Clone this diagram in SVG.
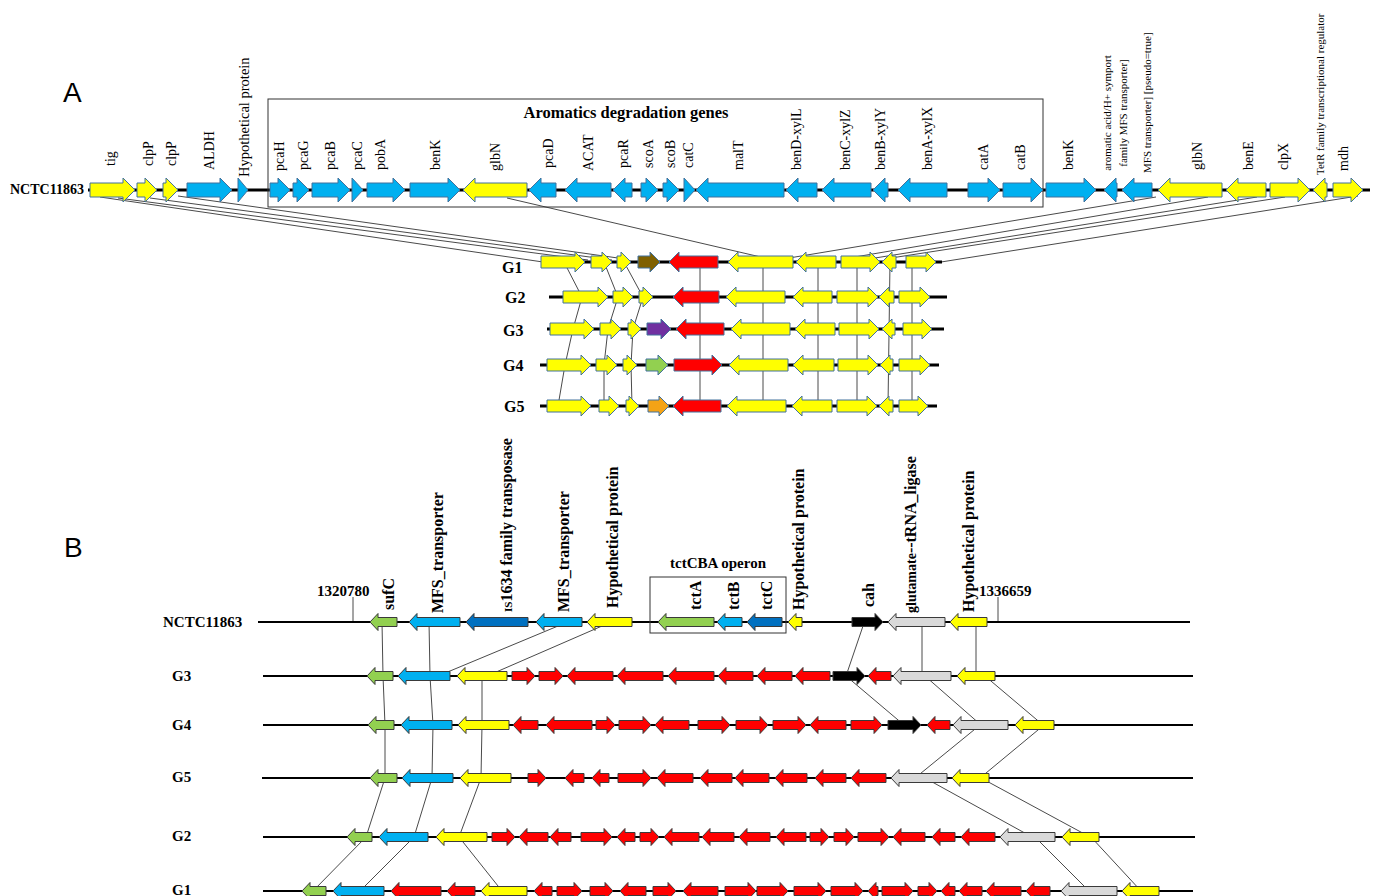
<svg xmlns="http://www.w3.org/2000/svg" width="1376" height="896" viewBox="0 0 1376 896">
<style>
.sr{font-family:"Liberation Serif","Times New Roman",serif;fill:#000}
.lab{font-size:14px}
.sm{font-size:11px}
.bd{font-weight:bold}
.bl16{font-family:"Liberation Serif",serif;font-weight:bold;font-size:16px}
.big{font-family:"Liberation Sans",Arial,sans-serif;font-size:28px}
.bb{stroke:#000;stroke-width:3;fill:none}
.bb2{stroke:#000;stroke-width:2;fill:none}
.cn{stroke:#4a4a4a;stroke-width:1;fill:none}
.ga path{stroke:#41719C;stroke-width:1}
.gb path{stroke:#3a3a3a;stroke-width:1}
.y{fill:#FFFF00}.b{fill:#00B0F0}.r{fill:#FF0000}.br{fill:#7F6000}.pu{fill:#7030A0}.gr{fill:#92D050}.or{fill:#F4A316}.db{fill:#0070C0}.k{fill:#000}.gy{fill:#D9D9D9}
</style>

<text class="big" x="63" y="102">A</text>
<text class="big" x="64" y="557">B</text>

<!-- ===== Connectors ===== -->
<g id="connectors">
  <!-- A: reference to G1 -->
  <line class="cn" x1="100" y1="197" x2="543" y2="262"/>
  <line class="cn" x1="118" y1="198" x2="588" y2="260"/>
  <line class="cn" x1="150" y1="198" x2="612" y2="260"/>
  <line class="cn" x1="178" y1="196" x2="625" y2="259"/>
  <line class="cn" x1="507" y1="198" x2="765" y2="258"/>
  <line class="cn" x1="1156" y1="197" x2="789" y2="258"/>
  <line class="cn" x1="1208" y1="197" x2="849" y2="258"/>
  <line class="cn" x1="1257" y1="197" x2="875" y2="258"/>
  <line class="cn" x1="1285" y1="197" x2="891" y2="258"/>
  <line class="cn" x1="1358" y1="196" x2="941" y2="262"/>
  <!-- A: G1..G5 -->
  <polyline class="cn" points="564,262 582,297 573,329 565,365 558,406"/>
  <polyline class="cn" points="604,262 618,297 608,329 604,365 604,406"/>
  <polyline class="cn" points="624,262 643,297 633,329 631,365 632,406"/>
  <line class="cn" x1="700" y1="262" x2="700" y2="406"/>
  <line class="cn" x1="763" y1="262" x2="763" y2="406"/>
  <line class="cn" x1="818" y1="262" x2="818" y2="406"/>
  <line class="cn" x1="857" y1="262" x2="857" y2="406"/>
  <line class="cn" x1="890" y1="262" x2="888" y2="406"/>
  <line class="cn" x1="912" y1="262" x2="912" y2="406"/>
  <!-- B -->
  <line class="cn" x1="353" y1="597" x2="353" y2="622"/>
  <line class="cn" x1="998" y1="597" x2="998" y2="622"/>
  <polyline class="cn" points="382,622 383,676 385,725 385,778 366,837 313,891"/>
  <polyline class="cn" points="429,622 430,676 433,725 432,778 414,837 360,891"/>
  <line class="cn" x1="558" y1="626" x2="438" y2="676"/>
  <line class="cn" x1="602" y1="626" x2="487" y2="676"/>
  <polyline class="cn" points="482,676 482,725 481,778 459,837 502,891"/>
  <polyline class="cn" points="863,626 846,676 904,725"/>
  <line class="cn" x1="922" y1="622" x2="922" y2="676"/>
  <line class="cn" x1="925" y1="676" x2="981" y2="725"/>
  <line class="cn" x1="980" y1="725" x2="915" y2="778"/>
  <line class="cn" x1="925" y1="778" x2="1032" y2="837"/>
  <line class="cn" x1="1035" y1="837" x2="1089" y2="891"/>
  <line class="cn" x1="976" y1="622" x2="976" y2="676"/>
  <line class="cn" x1="985" y1="676" x2="1043" y2="725"/>
  <line class="cn" x1="1044" y1="725" x2="980" y2="778"/>
  <line class="cn" x1="981" y1="778" x2="1090" y2="837"/>
  <line class="cn" x1="1091" y1="837" x2="1141" y2="891"/>
</g>

<!-- ===== Part A reference ===== -->
<g id="A-NCTC11863" class="ga">
  <text class="sr bd" x="10" y="194" font-size="14">NCTC11863</text>
  <line class="bb" x1="88" y1="190" x2="1370" y2="190"/>
  <rect x="268" y="99" width="775" height="108" fill="none" stroke="#333" stroke-width="1"/>
  <text class="sr bd" x="626" y="118" font-size="16.5" text-anchor="middle">Aromatics degradation genes</text>
  <path class="y" d="M90,183h33v-5l12,12l-12,12v-5h-33z"/>
  <path class="y" d="M137,183h8v-5l12,12l-12,12v-5h-8z"/>
  <path class="y" d="M163,183h3v-5l12,12l-12,12v-5h-3z"/>
  <path class="b" d="M187,183h33v-5l12,12l-12,12v-5h-33z"/>
  <path class="b" d="M238,183v-5l10,12l-10,12v-5z"/>
  <path class="b" d="M270,183h8v-5l12,12l-12,12v-5h-8z"/>
  <path class="b" d="M293,183h4v-5l12,12l-12,12v-5h-4z"/>
  <path class="b" d="M312,183h26v-5l12,12l-12,12v-5h-26z"/>
  <path class="b" d="M352,183v-5l11,12l-11,12v-5z"/>
  <path class="b" d="M367,183h26v-5l12,12l-12,12v-5h-26z"/>
  <path class="b" d="M410,183h38v-5l12,12l-12,12v-5h-38z"/>
  <path class="y" d="M527,183h-52v-5l-12,12l12,12v-5h52z"/>
  <path class="b" d="M556,183h-15v-5l-12,12l12,12v-5h15z"/>
  <path class="b" d="M611,183h-34v-5l-12,12l12,12v-5h34z"/>
  <path class="b" d="M632,183h-7v-5l-12,12l12,12v-5h7z"/>
  <path class="b" d="M641,183h5v-5l12,12l-12,12v-5h-5z"/>
  <path class="b" d="M663,183h4v-5l12,12l-12,12v-5h-4z"/>
  <path class="b" d="M684,183v-5l11,12l-11,12v-5z"/>
  <path class="b" d="M784,183h-76v-5l-12,12l12,12v-5h76z"/>
  <path class="b" d="M817,183h-19v-5l-12,12l12,12v-5h19z"/>
  <path class="b" d="M871,183h-37v-5l-12,12l12,12v-5h37z"/>
  <path class="b" d="M888,183h-3v-5l-12,12l12,12v-5h3z"/>
  <path class="b" d="M947,183h-37v-5l-12,12l12,12v-5h37z"/>
  <path class="b" d="M968,183h20v-5l12,12l-12,12v-5h-20z"/>
  <path class="b" d="M1003,183h28v-5l12,12l-12,12v-5h-28z"/>
  <path class="b" d="M1046,183h38v-5l12,12l-12,12v-5h-38z"/>
  <path class="b" d="M1117,183h-1v-5l-12,12l12,12v-5h1z"/>
  <path class="b" d="M1152,183h-18v-5l-12,12l12,12v-5h18z"/>
  <path class="y" d="M1222,183h-52v-5l-12,12l12,12v-5h52z"/>
  <path class="y" d="M1266,183h-28v-5l-12,12l12,12v-5h28z"/>
  <path class="y" d="M1270,183h28v-5l12,12l-12,12v-5h-28z"/>
  <path class="y" d="M1327,183h-2v-5l-12,12l12,12v-5h2z"/>
  <path class="y" d="M1333,183h18v-5l12,12l-12,12v-5h-18z"/>
  <g class="sr lab">
    <text transform="translate(110,166) rotate(-90)" dy=".35em">tig</text>
    <text transform="translate(148,166) rotate(-90)" dy=".35em">clpP</text>
    <text transform="translate(171,166) rotate(-90)" dy=".35em">clpP</text>
    <text transform="translate(209,170) rotate(-90)" dy=".35em">ALDH</text>
    <text transform="translate(244,177) rotate(-90)" dy=".35em" font-size="14.5">Hypothetical protein</text>
    <text transform="translate(279,171) rotate(-90)" dy=".35em">pcaH</text>
    <text transform="translate(303,170) rotate(-90)" dy=".35em">pcaG</text>
    <text transform="translate(330,170) rotate(-90)" dy=".35em">pcaB</text>
    <text transform="translate(357,170) rotate(-90)" dy=".35em">pcaC</text>
    <text transform="translate(380,170) rotate(-90)" dy=".35em">pobA</text>
    <text transform="translate(435,170) rotate(-90)" dy=".35em">benK</text>
    <text transform="translate(495,171) rotate(-90)" dy=".35em">glbN</text>
    <text transform="translate(548,168) rotate(-90)" dy=".35em">pcaD</text>
    <text transform="translate(588,171) rotate(-90)" dy=".35em">ACAT</text>
    <text transform="translate(623,168) rotate(-90)" dy=".35em">pcaR</text>
    <text transform="translate(648,168) rotate(-90)" dy=".35em">scoA</text>
    <text transform="translate(670,168) rotate(-90)" dy=".35em">scoB</text>
    <text transform="translate(688,168) rotate(-90)" dy=".35em">catC</text>
    <text transform="translate(738,170) rotate(-90)" dy=".35em">malT</text>
    <text transform="translate(796,170) rotate(-90)" dy=".35em">benD-xylL</text>
    <text transform="translate(845,170) rotate(-90)" dy=".35em">benC-xylZ</text>
    <text transform="translate(880,170) rotate(-90)" dy=".35em">benB-xylY</text>
    <text transform="translate(927,170) rotate(-90)" dy=".35em">benA-xylX</text>
    <text transform="translate(983,170) rotate(-90)" dy=".35em">catA</text>
    <text transform="translate(1020,170) rotate(-90)" dy=".35em">catB</text>
    <text transform="translate(1068,170) rotate(-90)" dy=".35em">benK</text>
    <text transform="translate(1107,113) rotate(-90)" dy=".35em" class="sm" text-anchor="middle">aromatic acid/H+ symport</text>
    <text transform="translate(1123,113) rotate(-90)" dy=".35em" class="sm" text-anchor="middle">family MFS transporter]</text>
    <text transform="translate(1147,173) rotate(-90)" dy=".35em" class="sm">MFS transporter] [pseudo=true]</text>
    <text transform="translate(1197,170) rotate(-90)" dy=".35em">glbN</text>
    <text transform="translate(1248,170) rotate(-90)" dy=".35em">benE</text>
    <text transform="translate(1283,170) rotate(-90)" dy=".35em">clpX</text>
    <text transform="translate(1320,175) rotate(-90)" dy=".35em" class="sm">TetR family transcriptional regulator</text>
    <text transform="translate(1343,171) rotate(-90)" dy=".35em">mdh</text>
  </g>
</g>

<!-- ===== Part A G rows ===== -->
<g id="A-G1" class="ga">
  <text class="sr bd" x="502" y="273" font-size="16">G1</text>
  <line class="bb" x1="541" y1="262" x2="942" y2="262"/>
  <path class="y" d="M541,256h34v-4l10,10l-10,10v-4h-34z"/>
  <path class="y" d="M591,256h11v-4l10,10l-10,10v-4h-11z"/>
  <path class="y" d="M617,256h4v-4l10,10l-10,10v-4h-4z"/>
  <path class="br" d="M638,256h12v-4l10,10l-10,10v-4h-12z"/>
  <path class="r" d="M718,256h-39v-4l-10,10l10,10v-4h39z"/>
  <path class="y" d="M793,256h-55v-4l-10,10l10,10v-4h55z"/>
  <path class="y" d="M836,256h-30v-4l-10,10l10,10v-4h30z"/>
  <path class="y" d="M841,256h29v-4l10,10l-10,10v-4h-29z"/>
  <path class="y" d="M896,256h-4v-4l-10,10l10,10v-4h4z"/>
  <path class="y" d="M906,256h20v-4l10,10l-10,10v-4h-20z"/>
</g>
<g id="A-G2" class="ga">
  <text class="sr bd" x="505" y="303" font-size="16">G2</text>
  <line class="bb" x1="549" y1="297" x2="947" y2="297"/>
  <path class="y" d="M563,291h35v-4l10,10l-10,10v-4h-35z"/>
  <path class="y" d="M613,291h10v-4l10,10l-10,10v-4h-10z"/>
  <path class="y" d="M639,291h4v-4l10,10l-10,10v-4h-4z"/>
  <path class="r" d="M719,291h-36v-4l-10,10l10,10v-4h36z"/>
  <path class="y" d="M785,291h-49v-4l-10,10l10,10v-4h49z"/>
  <path class="y" d="M832,291h-29v-4l-10,10l10,10v-4h29z"/>
  <path class="y" d="M837,291h31v-4l10,10l-10,10v-4h-31z"/>
  <path class="y" d="M894,291h-5v-4l-10,10l10,10v-4h5z"/>
  <path class="y" d="M899,291h21v-4l10,10l-10,10v-4h-21z"/>
</g>
<g id="A-G3" class="ga">
  <text class="sr bd" x="503" y="336" font-size="16">G3</text>
  <line class="bb" x1="547" y1="329" x2="944" y2="329"/>
  <path class="y" d="M550,323h34v-4l10,10l-10,10v-4h-34z"/>
  <path class="y" d="M600,323h11v-4l10,10l-10,10v-4h-11z"/>
  <path class="y" d="M628,323h3v-4l10,10l-10,10v-4h-3z"/>
  <path class="pu" d="M647,323h14v-4l10,10l-10,10v-4h-14z"/>
  <path class="r" d="M724,323h-38v-4l-10,10l10,10v-4h38z"/>
  <path class="y" d="M790,323h-49v-4l-10,10l10,10v-4h49z"/>
  <path class="y" d="M835,323h-30v-4l-10,10l10,10v-4h30z"/>
  <path class="y" d="M839,323h30v-4l10,10l-10,10v-4h-30z"/>
  <path class="y" d="M895,323h-3v-4l-10,10l10,10v-4h3z"/>
  <path class="y" d="M903,323h19v-4l10,10l-10,10v-4h-19z"/>
</g>
<g id="A-G4" class="ga">
  <text class="sr bd" x="503" y="371" font-size="16">G4</text>
  <line class="bb" x1="540" y1="365" x2="939" y2="365"/>
  <path class="y" d="M547,359h34v-4l10,10l-10,10v-4h-34z"/>
  <path class="y" d="M596,359h11v-4l10,10l-10,10v-4h-11z"/>
  <path class="y" d="M623,359h4v-4l10,10l-10,10v-4h-4z"/>
  <path class="gr" d="M646,359h12v-4l10,10l-10,10v-4h-12z"/>
  <path class="r" d="M674,359h38v-4l10,10l-10,10v-4h-38z"/>
  <path class="y" d="M788,359h-49v-4l-10,10l10,10v-4h49z"/>
  <path class="y" d="M834,359h-31v-4l-10,10l10,10v-4h31z"/>
  <path class="y" d="M838,359h30v-4l10,10l-10,10v-4h-30z"/>
  <path class="y" d="M893,359h-3v-4l-10,10l10,10v-4h3z"/>
  <path class="y" d="M899,359h21v-4l10,10l-10,10v-4h-21z"/>
</g>
<g id="A-G5" class="ga">
  <text class="sr bd" x="504" y="412" font-size="16">G5</text>
  <line class="bb" x1="540" y1="406" x2="937" y2="406"/>
  <path class="y" d="M547,400h34v-4l10,10l-10,10v-4h-34z"/>
  <path class="y" d="M599,400h10v-4l10,10l-10,10v-4h-10z"/>
  <path class="y" d="M626,400h3v-4l10,10l-10,10v-4h-3z"/>
  <path class="or" d="M648,400h11v-4l10,10l-10,10v-4h-11z"/>
  <path class="r" d="M721,400h-38v-4l-10,10l10,10v-4h38z"/>
  <path class="y" d="M786,400h-49v-4l-10,10l10,10v-4h49z"/>
  <path class="y" d="M832,400h-30v-4l-10,10l10,10v-4h30z"/>
  <path class="y" d="M837,400h30v-4l10,10l-10,10v-4h-30z"/>
  <path class="y" d="M893,400h-4v-4l-10,10l10,10v-4h4z"/>
  <path class="y" d="M899,400h19v-4l10,10l-10,10v-4h-19z"/>
</g>

<!-- ===== Part B reference ===== -->
<g id="B-NCTC11863" class="gb">
  <text class="sr bd" x="163" y="627" font-size="15">NCTC11863</text>
  <line class="bb2" x1="258" y1="622" x2="1190" y2="622"/>
  <text class="sr bd" x="317" y="596" font-size="15">1320780</text>
  <text class="sr bd" x="979" y="596" font-size="15">1336659</text>
  <rect x="650" y="577" width="136" height="56" fill="none" stroke="#333" stroke-width="1"/>
  <text class="sr bd" x="718" y="568" font-size="15" text-anchor="middle">tctCBA operon</text>
  <path class="gr" d="M397,617.5h-19v-4l-8,8.5l8,8.5v-4h19z"/>
  <path class="b" d="M460,617.5h-43v-4l-8,8.5l8,8.5v-4h43z"/>
  <path class="db" d="M528,617.5h-54v-4l-8,8.5l8,8.5v-4h54z"/>
  <path class="b" d="M582,617.5h-38v-4l-8,8.5l8,8.5v-4h38z"/>
  <path class="y" d="M632,617.5h-37v-4l-8,8.5l8,8.5v-4h37z"/>
  <path class="gr" d="M714,617.5h-48v-4l-8,8.5l8,8.5v-4h48z"/>
  <path class="b" d="M742,617.5h-17v-4l-8,8.5l8,8.5v-4h17z"/>
  <path class="db" d="M782,617.5h-27v-4l-8,8.5l8,8.5v-4h27z"/>
  <path class="y" d="M802,617.5h-6v-4l-8,8.5l8,8.5v-4h6z"/>
  <path class="k" d="M852,617.5h23v-4l8,8.5l-8,8.5v-4h-23z"/>
  <path class="gy" d="M945,617.5h-49v-4l-8,8.5l8,8.5v-4h49z"/>
  <path class="y" d="M987,617.5h-29v-4l-8,8.5l8,8.5v-4h29z"/>
  <g class="bl16">
    <text transform="translate(388,610) rotate(-90)" dy=".35em">sufC</text>
    <text transform="translate(437,613) rotate(-90)" dy=".35em">MFS_transporter</text>
    <text transform="translate(506,612) rotate(-90)" dy=".35em"><tspan font-size="11">IS</tspan>1634 family transposase</text>
    <text transform="translate(563,612) rotate(-90)" dy=".35em">MFS_transporter</text>
    <text transform="translate(612,608) rotate(-90)" dy=".35em">Hypothetical protein</text>
    <text transform="translate(695,610) rotate(-90)" dy=".35em">tctA</text>
    <text transform="translate(733,610) rotate(-90)" dy=".35em">tctB</text>
    <text transform="translate(766,610) rotate(-90)" dy=".35em">tctC</text>
    <text transform="translate(798,610) rotate(-90)" dy=".35em">Hypothetical protein</text>
    <text transform="translate(868,607) rotate(-90)" dy=".35em">cah</text>
    <text transform="translate(910,613) rotate(-90)" dy=".35em"><tspan font-size="14">glutamate</tspan>--tRNA_ligase</text>
    <text transform="translate(968,612) rotate(-90)" dy=".35em">Hypothetical protein</text>
  </g>
</g>

<!-- ===== Part B rows ===== -->
<g id="B-G3" class="gb">
  <text class="sr bd" x="172" y="681" font-size="15">G3</text>
  <line class="bb2" x1="263" y1="676" x2="1193" y2="676"/>
  <path class="gr" d="M393,671.5h-18v-4l-8,8.5l8,8.5v-4h18z"/>
  <path class="b" d="M450,671.5h-44v-4l-8,8.5l8,8.5v-4h44z"/>
  <path class="y" d="M507,671.5h-42v-4l-8,8.5l8,8.5v-4h42z"/>
  <path class="r" d="M512,671.5h15v-4l8,8.5l-8,8.5v-4h-15z"/>
  <path class="r" d="M539,671.5h16v-4l8,8.5l-8,8.5v-4h-16z"/>
  <path class="r" d="M613,671.5h-38v-4l-8,8.5l8,8.5v-4h38z"/>
  <path class="r" d="M663,671.5h-38v-4l-8,8.5l8,8.5v-4h38z"/>
  <path class="r" d="M714,671.5h-38v-4l-8,8.5l8,8.5v-4h38z"/>
  <path class="r" d="M753,671.5h-27v-4l-8,8.5l8,8.5v-4h27z"/>
  <path class="r" d="M792,671.5h-27v-4l-8,8.5l8,8.5v-4h27z"/>
  <path class="r" d="M830,671.5h-27v-4l-8,8.5l8,8.5v-4h27z"/>
  <path class="k" d="M833,671.5h24v-4l8,8.5l-8,8.5v-4h-24z"/>
  <path class="r" d="M891,671.5h-15v-4l-8,8.5l8,8.5v-4h15z"/>
  <path class="gy" d="M951,671.5h-50v-4l-8,8.5l8,8.5v-4h50z"/>
  <path class="y" d="M995,671.5h-30v-4l-8,8.5l8,8.5v-4h30z"/>
</g>
<g id="B-G4" class="gb">
  <text class="sr bd" x="172" y="730" font-size="15">G4</text>
  <line class="bb2" x1="263" y1="725" x2="1193" y2="725"/>
  <path class="gr" d="M394,720.5h-18v-4l-8,8.5l8,8.5v-4h18z"/>
  <path class="b" d="M452,720.5h-43v-4l-8,8.5l8,8.5v-4h43z"/>
  <path class="y" d="M509,720.5h-43v-4l-8,8.5l8,8.5v-4h43z"/>
  <path class="r" d="M538,720.5h-17v-4l-8,8.5l8,8.5v-4h17z"/>
  <path class="r" d="M592,720.5h-38v-4l-8,8.5l8,8.5v-4h38z"/>
  <path class="r" d="M596,720.5h11v-4l8,8.5l-8,8.5v-4h-11z"/>
  <path class="r" d="M619,720.5h24v-4l8,8.5l-8,8.5v-4h-24z"/>
  <path class="r" d="M689,720.5h-26v-4l-8,8.5l8,8.5v-4h26z"/>
  <path class="r" d="M698,720.5h24v-4l8,8.5l-8,8.5v-4h-24z"/>
  <path class="r" d="M736,720.5h24v-4l8,8.5l-8,8.5v-4h-24z"/>
  <path class="r" d="M773,720.5h25v-4l8,8.5l-8,8.5v-4h-25z"/>
  <path class="r" d="M846,720.5h-28v-4l-8,8.5l8,8.5v-4h28z"/>
  <path class="r" d="M851,720.5h23v-4l8,8.5l-8,8.5v-4h-23z"/>
  <path class="k" d="M888,720.5h25v-4l8,8.5l-8,8.5v-4h-25z"/>
  <path class="r" d="M950,720.5h-15v-4l-8,8.5l8,8.5v-4h15z"/>
  <path class="gy" d="M1008,720.5h-47v-4l-8,8.5l8,8.5v-4h47z"/>
  <path class="y" d="M1054,720.5h-31v-4l-8,8.5l8,8.5v-4h31z"/>
</g>
<g id="B-G5" class="gb">
  <text class="sr bd" x="172" y="782" font-size="15">G5</text>
  <line class="bb2" x1="262" y1="778" x2="1193" y2="778"/>
  <path class="gr" d="M397,773.5h-19v-4l-8,8.5l8,8.5v-4h19z"/>
  <path class="b" d="M453,773.5h-43v-4l-8,8.5l8,8.5v-4h43z"/>
  <path class="y" d="M511,773.5h-43v-4l-8,8.5l8,8.5v-4h43z"/>
  <path class="r" d="M528,773.5h10v-4l8,8.5l-8,8.5v-4h-10z"/>
  <path class="r" d="M584,773.5h-11v-4l-8,8.5l8,8.5v-4h11z"/>
  <path class="r" d="M609,773.5h-9v-4l-8,8.5l8,8.5v-4h9z"/>
  <path class="r" d="M618,773.5h25v-4l8,8.5l-8,8.5v-4h-25z"/>
  <path class="r" d="M693,773.5h-28v-4l-8,8.5l8,8.5v-4h28z"/>
  <path class="r" d="M732,773.5h-24v-4l-8,8.5l8,8.5v-4h24z"/>
  <path class="r" d="M769,773.5h-26v-4l-8,8.5l8,8.5v-4h26z"/>
  <path class="r" d="M807,773.5h-24v-4l-8,8.5l8,8.5v-4h24z"/>
  <path class="r" d="M846,773.5h-23v-4l-8,8.5l8,8.5v-4h23z"/>
  <path class="r" d="M886,773.5h-27v-4l-8,8.5l8,8.5v-4h27z"/>
  <path class="gy" d="M947,773.5h-48v-4l-8,8.5l8,8.5v-4h48z"/>
  <path class="y" d="M989,773.5h-29v-4l-8,8.5l8,8.5v-4h29z"/>
</g>
<g id="B-G2" class="gb">
  <text class="sr bd" x="172" y="841" font-size="15">G2</text>
  <line class="bb2" x1="263" y1="837" x2="1195" y2="837"/>
  <path class="gr" d="M372,832.5h-17v-4l-8,8.5l8,8.5v-4h17z"/>
  <path class="b" d="M428,832.5h-41v-4l-8,8.5l8,8.5v-4h41z"/>
  <path class="y" d="M487,832.5h-43v-4l-8,8.5l8,8.5v-4h43z"/>
  <path class="r" d="M492,832.5h15v-4l8,8.5l-8,8.5v-4h-15z"/>
  <path class="r" d="M548,832.5h-21v-4l-8,8.5l8,8.5v-4h21z"/>
  <path class="r" d="M571,832.5h-13v-4l-8,8.5l8,8.5v-4h13z"/>
  <path class="r" d="M581,832.5h23v-4l8,8.5l-8,8.5v-4h-23z"/>
  <path class="r" d="M635,832.5h-10v-4l-8,8.5l8,8.5v-4h10z"/>
  <path class="r" d="M640,832.5h11v-4l8,8.5l-8,8.5v-4h-11z"/>
  <path class="r" d="M699,832.5h-27v-4l-8,8.5l8,8.5v-4h27z"/>
  <path class="r" d="M734,832.5h-24v-4l-8,8.5l8,8.5v-4h24z"/>
  <path class="r" d="M770,832.5h-23v-4l-8,8.5l8,8.5v-4h23z"/>
  <path class="r" d="M806,832.5h-22v-4l-8,8.5l8,8.5v-4h22z"/>
  <path class="r" d="M810,832.5h11v-4l8,8.5l-8,8.5v-4h-11z"/>
  <path class="r" d="M834,832.5h12v-4l8,8.5l-8,8.5v-4h-12z"/>
  <path class="r" d="M858,832.5h23v-4l8,8.5l-8,8.5v-4h-23z"/>
  <path class="r" d="M925,832.5h-24v-4l-8,8.5l8,8.5v-4h24z"/>
  <path class="r" d="M955,832.5h-15v-4l-8,8.5l8,8.5v-4h15z"/>
  <path class="r" d="M995,832.5h-26v-4l-8,8.5l8,8.5v-4h26z"/>
  <path class="gy" d="M1055,832.5h-47v-4l-8,8.5l8,8.5v-4h47z"/>
  <path class="y" d="M1099,832.5h-29v-4l-8,8.5l8,8.5v-4h29z"/>
</g>
<g id="B-G1" class="gb">
  <text class="sr bd" x="172" y="895" font-size="15">G1</text>
  <line class="bb2" x1="263" y1="891" x2="1193" y2="891"/>
  <path class="gr" d="M326,886.5h-16v-4l-8,8.5l8,8.5v-4h16z"/>
  <path class="b" d="M384,886.5h-43v-4l-8,8.5l8,8.5v-4h43z"/>
  <path class="r" d="M441,886.5h-42v-4l-8,8.5l8,8.5v-4h42z"/>
  <path class="r" d="M475,886.5h-20v-4l-8,8.5l8,8.5v-4h20z"/>
  <path class="y" d="M527,886.5h-38v-4l-8,8.5l8,8.5v-4h38z"/>
  <path class="r" d="M552,886.5h-10v-4l-8,8.5l8,8.5v-4h10z"/>
  <path class="r" d="M557,886.5h17v-4l8,8.5l-8,8.5v-4h-17z"/>
  <path class="r" d="M590,886.5h15v-4l8,8.5l-8,8.5v-4h-15z"/>
  <path class="r" d="M646,886.5h-18v-4l-8,8.5l8,8.5v-4h18z"/>
  <path class="r" d="M653,886.5h15v-4l8,8.5l-8,8.5v-4h-15z"/>
  <path class="r" d="M718,886.5h-27v-4l-8,8.5l8,8.5v-4h27z"/>
  <path class="r" d="M725,886.5h23v-4l8,8.5l-8,8.5v-4h-23z"/>
  <path class="r" d="M757,886.5h23v-4l8,8.5l-8,8.5v-4h-23z"/>
  <path class="r" d="M794,886.5h24v-4l8,8.5l-8,8.5v-4h-24z"/>
  <path class="r" d="M831,886.5h24v-4l8,8.5l-8,8.5v-4h-24z"/>
  <path class="r" d="M878,886.5h-2v-4l-8,8.5l8,8.5v-4h2z"/>
  <path class="r" d="M882,886.5h23v-4l8,8.5l-8,8.5v-4h-23z"/>
  <path class="r" d="M918,886.5h11v-4l8,8.5l-8,8.5v-4h-11z"/>
  <path class="r" d="M955,886.5h-6v-4l-8,8.5l8,8.5v-4h6z"/>
  <path class="r" d="M982,886.5h-15v-4l-8,8.5l8,8.5v-4h15z"/>
  <path class="r" d="M1021,886.5h-27v-4l-8,8.5l8,8.5v-4h27z"/>
  <path class="r" d="M1050,886.5h-16v-4l-8,8.5l8,8.5v-4h16z"/>
  <path class="gy" d="M1117,886.5h-48v-4l-8,8.5l8,8.5v-4h48z"/>
  <path class="y" d="M1159,886.5h-29v-4l-8,8.5l8,8.5v-4h29z"/>
</g>
</svg>
